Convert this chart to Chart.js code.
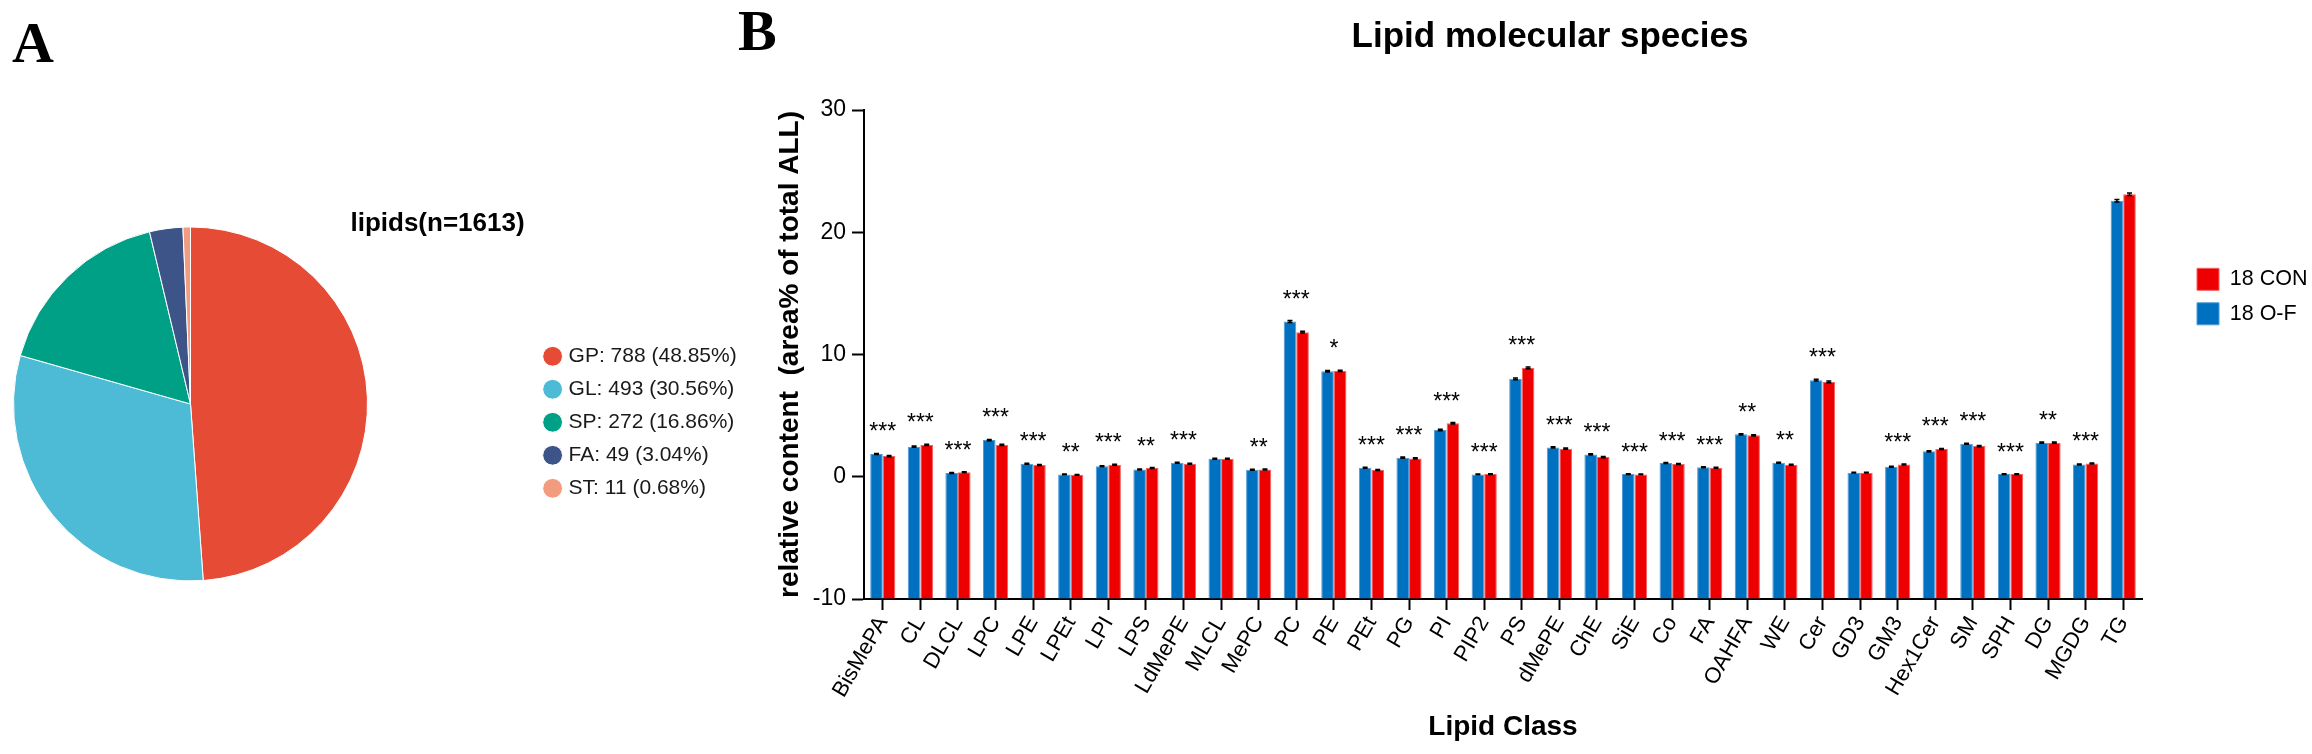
<!DOCTYPE html>
<html><head><meta charset="utf-8">
<script src="https://cdn.jsdelivr.net/npm/chart.js@4.4.1/dist/chart.umd.min.js"></script>
<style>
html,body{margin:0;padding:0;background:#fff;width:2312px;height:754px;overflow:hidden;position:relative}
canvas{position:absolute}
#cA{left:0;top:0}
#cB{left:760px;top:0}
.panel{position:absolute;font-family:'Liberation Serif','Times New Roman',serif;font-weight:bold;font-size:58px;line-height:1;color:#000;z-index:5}
</style></head><body>
<div class="panel" style="left:12px;top:14px">A</div>
<div class="panel" style="left:738px;top:2px">B</div>
<canvas id="cA" width="760" height="754"></canvas>
<canvas id="cB" width="1552" height="754"></canvas>
<script>
// ---------- data: panel A ----------
const pieCategories = ['GP', 'GL', 'SP', 'FA', 'ST'];
const pieCounts = [788, 493, 272, 49, 11];
const pieColors = ['#E64B35', '#4DBBD5', '#00A087', '#3C5488', '#F39B7F'];

// ---------- data: panel B ----------
const lipidClasses = ['BisMePA','CL','DLCL','LPC','LPE','LPEt','LPI','LPS','LdMePE','MLCL','MePC','PC','PE','PEt','PG','PI','PIP2','PS','dMePE','ChE','SiE','Co','FA','OAHFA','WE','Cer','GD3','GM3','Hex1Cer','SM','SPH','DG','MGDG','TG'];
const valuesOF  = [1.86, 2.46, 0.30, 3.00, 1.07, 0.19, 0.85, 0.60, 1.15, 1.48, 0.57, 12.70, 8.63, 0.74, 1.56, 3.83, 0.19, 8.01, 2.40, 1.83, 0.22, 1.12, 0.77, 3.47, 1.15, 7.90, 0.33, 0.82, 2.08, 2.70, 0.22, 2.79, 1.01, 22.57];
const valuesCON = [1.69, 2.60, 0.36, 2.60, 0.96, 0.16, 0.98, 0.71, 1.07, 1.48, 0.60, 11.83, 8.66, 0.55, 1.50, 4.37, 0.22, 8.91, 2.30, 1.61, 0.19, 1.04, 0.74, 3.39, 0.98, 7.76, 0.33, 1.01, 2.27, 2.51, 0.22, 2.79, 1.09, 23.11];
const semOF  = [0.05, 0.05, 0.04, 0.05, 0.04, 0.03, 0.04, 0.04, 0.04, 0.04, 0.04, 0.08, 0.06, 0.04, 0.05, 0.06, 0.03, 0.07, 0.05, 0.05, 0.03, 0.04, 0.04, 0.05, 0.04, 0.07, 0.03, 0.04, 0.05, 0.05, 0.03, 0.05, 0.04, 0.10];
const semCON = [0.05, 0.05, 0.04, 0.05, 0.04, 0.03, 0.04, 0.04, 0.04, 0.04, 0.04, 0.08, 0.06, 0.04, 0.05, 0.06, 0.03, 0.07, 0.05, 0.05, 0.03, 0.04, 0.04, 0.05, 0.04, 0.07, 0.03, 0.04, 0.05, 0.05, 0.03, 0.05, 0.04, 0.10];
const significance = ['***','***','***','***','***','**','***','**','***','','**','***','*','***','***','***','***','***','***','***','***','***','***','**','**','***','','***','***','***','***','**','***',''];
const yTicks = [-10, 0, 10, 20, 30];

Chart.defaults.font.family = "'Liberation Sans', Arial, Helvetica, sans-serif";
Chart.defaults.color = '#000';

// moves layout boxes (legend / title) to given canvas positions after layout
const placer = {
  id: 'placer',
  afterLayout(chart, args, opts) {
    const boxes = { legend: chart.legend, title: chart.titleBlock };
    for (const k of Object.keys(boxes)) {
      const b = boxes[k], o = opts[k];
      if (!b || !o) continue;
      if (o.width !== undefined) b.width = o.width;
      if (o.cx !== undefined) b.left = o.cx - b.width / 2;
      if (o.left !== undefined) b.left = o.left;
      b.right = b.left + b.width;
      if (o.top !== undefined) { const h = b.height; b.top = o.top; b.bottom = o.top + h; }
    }
  }
};

// error bars + significance stars
const semByDataset = [semOF, semCON];
const annot = {
  id: 'annot',
  afterDatasetsDraw(chart) {
    const { ctx, scales: { x, y } } = chart;
    ctx.save();
    ctx.strokeStyle = '#000';
    ctx.lineWidth = 1.5;
    chart.data.datasets.forEach((ds, di) => {
      const meta = chart.getDatasetMeta(di);
      meta.data.forEach((bar, i) => {
        const v = ds.data[i], s = semByDataset[di][i];
        const cx = bar.x;
        const y1 = y.getPixelForValue(v - s), y2 = y.getPixelForValue(v + s);
        ctx.beginPath();
        ctx.moveTo(cx, y1); ctx.lineTo(cx, y2);
        ctx.moveTo(cx - 2.5, y2); ctx.lineTo(cx + 2.5, y2);
        ctx.moveTo(cx - 2.5, y1); ctx.lineTo(cx + 2.5, y1);
        ctx.stroke();
      });
    });
    ctx.font = "23px 'Liberation Sans', Arial, sans-serif";
    ctx.fillStyle = '#000';
    ctx.textAlign = 'center';
    ctx.textBaseline = 'alphabetic';
    significance.forEach((t, i) => {
      if (!t) return;
      const top = Math.max(valuesOF[i] + semOF[i], valuesCON[i] + semCON[i]);
      ctx.fillText(t, x.getPixelForValue(i), y.getPixelForValue(top) - 14);
    });
    ctx.restore();
  }
};

// ---------- panel A: pie ----------
const pieTotal = pieCounts.reduce((a, b) => a + b, 0);
const baseGen = (Chart.overrides.pie || Chart.overrides.doughnut).plugins.legend.labels.generateLabels;
new Chart(document.getElementById('cA'), {
  type: 'pie',
  data: {
    labels: pieCategories,
    datasets: [{ data: pieCounts, backgroundColor: pieColors, borderColor: '#ffffff', borderWidth: 1, radius: 177 }]
  },
  options: {
    responsive: false,
    animation: false,
    layout: { padding: { left: 0, right: 279, top: 22.8, bottom: 0 } },
    plugins: {
      title: { display: true, text: 'lipids(n=' + pieTotal + ')', fullSize: false, color: '#000',
               font: { size: 26, weight: 'bold' }, padding: 0 },
      legend: {
        position: 'right', align: 'start', maxWidth: 100,
        labels: {
          usePointStyle: true, pointStyle: 'circle', boxWidth: 11, boxHeight: 14, padding: 12,
          font: { size: 21 }, color: '#1a1a1a',
          generateLabels(chart) {
            return baseGen(chart).map((it, i) => {
              it.text = pieCategories[i] + ': ' + pieCounts[i] + ' (' + (pieCounts[i] / pieTotal * 100).toFixed(2) + '%)';
              return it;
            });
          }
        }
      },
      tooltip: { enabled: false },
      placer: { title: { cx: 437.5, width: 400, top: 208.4 }, legend: { left: 535.1, top: 333.8, width: 240 } }
    }
  },
  plugins: [placer]
});

// ---------- panel B: grouped bars ----------
new Chart(document.getElementById('cB'), {
  type: 'bar',
  data: {
    labels: lipidClasses,
    datasets: [
      { label: '18 O-F', data: valuesOF, backgroundColor: '#0070c0', borderColor: '#4d9ad8', borderWidth: 1, base: yTicks[0],
        categoryPercentage: 0.67, barPercentage: 1.0 },
      { label: '18 CON', data: valuesCON, backgroundColor: '#ee0000', borderColor: '#f56060', borderWidth: 1, base: yTicks[0],
        categoryPercentage: 0.67, barPercentage: 1.0 }
    ]
  },
  options: {
    responsive: false,
    animation: false,
    layout: { padding: { left: 0, right: 70, top: 0, bottom: 0 } },
    scales: {
      x: {
        offset: true,
        grid: { display: true, offset: false, drawOnChartArea: false, drawTicks: true, tickLength: 11, tickWidth: 2, tickColor: '#000' },
        border: { display: true, color: '#000', width: 2 },
        ticks: { autoSkip: false, maxRotation: 60, minRotation: 60, padding: 2, font: { size: 22 }, color: '#000' },
        title: { display: true, text: 'Lipid Class', color: '#000', font: { size: 28, weight: 'bold' }, padding: { top: 0, bottom: 9.8 } },
        afterFit(s) { s.height = 155; }
      },
      y: {
        min: yTicks[0], max: yTicks[yTicks.length - 1],
        afterBuildTicks(s) { s.ticks = yTicks.map(v => ({ value: v })); },
        ticks: { font: { size: 23 }, color: '#000', padding: 6 },
        grid: { display: true, drawOnChartArea: false, drawTicks: true, tickLength: 12, tickWidth: 2, tickColor: '#000' },
        border: { display: true, color: '#000', width: 2 },
        title: { display: true, text: 'relative content  (area% of total ALL)', color: '#000', font: { size: 28, weight: 'bold' }, padding: { top: 13.2, bottom: 0 } },
        afterFit(s) { s.width = 104; }
      }
    },
    plugins: {
      title: { display: true, text: 'Lipid molecular species', color: '#000', font: { size: 35, weight: 'bold' }, padding: { top: 16.7, bottom: 51.3 } },
      legend: {
        position: 'right', align: 'start', reverse: true, maxWidth: 100,
        labels: { boxWidth: 22, boxHeight: 22, padding: 12.5, font: { size: 21.5 }, color: '#000' }
      },
      tooltip: { enabled: false },
      placer: { title: { cx: 790, width: 800 }, legend: { left: 1424.5, top: 255.8, width: 200 } }
    }
  },
  plugins: [placer, annot]
});
</script>
</body></html>
